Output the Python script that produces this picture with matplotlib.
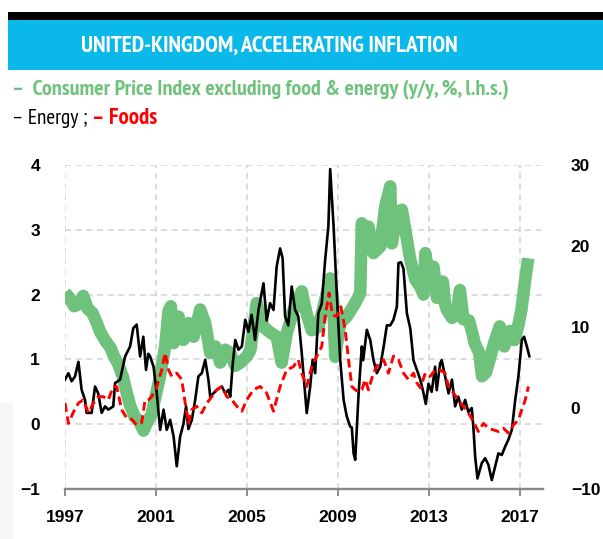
import matplotlib
matplotlib.use('Agg')
import matplotlib.pyplot as plt
from matplotlib.patches import Rectangle

# core CPI ex food & energy (y/y %, left axis)
core_years = [1997.0, 1997.2, 1997.4, 1997.6, 1997.8, 1998.0, 1998.2, 1998.4, 1998.55, 1998.75,
              1999.0, 1999.15, 1999.35, 1999.55, 1999.7, 1999.85, 2000.05, 2000.25, 2000.45, 2000.6,
              2000.8, 2000.96, 2001.18, 2001.4, 2001.55, 2001.65, 2001.77, 2001.99, 2002.2, 2002.43,
              2002.65, 2002.94, 2003.16, 2003.38, 2003.6, 2003.82, 2004.04, 2004.26, 2004.48, 2004.7,
              2005.0, 2005.15, 2005.42, 2005.72, 2006.0, 2006.3, 2006.52, 2006.74, 2007.03, 2007.4,
              2007.62, 2007.84, 2008.13, 2008.35, 2008.65, 2008.78, 2008.87, 2009.09, 2009.38, 2009.75,
              2009.97, 2010.04, 2010.19, 2010.33, 2010.55, 2010.85, 2011.07, 2011.29, 2011.36, 2011.58,
              2011.8, 2011.95, 2012.17, 2012.39, 2012.61, 2012.75, 2012.83, 2012.97, 2013.19, 2013.34,
              2013.5, 2013.6, 2013.7, 2013.77, 2014.0, 2014.2, 2014.35, 2014.5, 2014.75, 2014.9,
              2015.0, 2015.2, 2015.32, 2015.5, 2015.65, 2015.85, 2016.1, 2016.3, 2016.55, 2016.75,
              2016.9, 2017.05, 2017.2, 2017.35]
core_vals = [2.03, 1.95, 1.82, 1.85, 1.98, 1.78, 1.72, 1.56, 1.42, 1.3,
             1.18, 1.05, 0.92, 0.72, 0.5, 0.3, 0.12, 0.05, -0.1, 0.02,
             0.15, 0.4, 0.75, 1.2, 1.75, 1.82, 1.25, 1.66, 1.3, 1.56,
             1.35, 1.77, 1.56, 1.1, 1.2, 0.95, 1.15, 1.1, 0.9, 0.95,
             1.05, 1.15, 1.87, 1.5, 1.42, 1.35, 0.95, 1.4, 1.75, 2.05,
             1.7, 1.45, 1.5, 1.8, 2.25, 1.9, 1.04, 1.56, 1.66, 1.87,
             2.02, 3.1, 2.79, 3.05, 2.64, 2.74, 3.36, 3.67, 2.79, 3.26,
             3.31, 3.0, 2.54, 2.23, 2.12, 2.0, 2.64, 2.3, 2.43, 1.95,
             2.2, 2.2, 1.85, 1.77, 1.64, 1.7, 2.07, 1.62, 1.6, 1.4,
             1.25, 1.1, 0.74, 0.8, 0.99, 1.25, 1.51, 1.2, 1.44, 1.3,
             1.5, 1.76, 2.18, 2.56]

# energy (y/y %, right axis)
energy_years = [1997.0, 1997.15, 1997.29, 1997.44, 1997.59, 1997.73, 1997.88, 1997.95, 1998.17, 1998.32,
                1998.46, 1998.61, 1998.76, 1998.9, 1999.12, 1999.2, 1999.42, 1999.64, 1999.86, 2000.0,
                2000.15, 2000.3, 2000.44, 2000.56, 2000.66, 2000.74, 2000.89, 2001.03, 2001.18, 2001.33,
                2001.47, 2001.62, 2001.77, 2001.91, 2002.06, 2002.2, 2002.32, 2002.42, 2002.57, 2002.72,
                2002.86, 2003.01, 2003.16, 2003.3, 2003.38, 2003.52, 2003.67, 2003.89, 2004.04, 2004.18,
                2004.26, 2004.37, 2004.48, 2004.62, 2004.77, 2004.92, 2005.06, 2005.2, 2005.35, 2005.5,
                2005.72, 2005.86, 2006.01, 2006.16, 2006.3, 2006.45, 2006.56, 2006.67, 2006.81, 2006.96,
                2007.11, 2007.25, 2007.4, 2007.55, 2007.62, 2007.77, 2007.88, 2007.99, 2008.13, 2008.28,
                2008.43, 2008.57, 2008.65, 2008.8, 2008.94, 2009.09, 2009.24, 2009.38, 2009.53, 2009.6,
                2009.68, 2009.75, 2009.9, 2010.04, 2010.1, 2010.26, 2010.41, 2010.55, 2010.7, 2010.85,
                2011.0, 2011.14, 2011.29, 2011.43, 2011.58, 2011.65, 2011.76, 2011.87, 2012.02, 2012.17,
                2012.31, 2012.46, 2012.61, 2012.75, 2012.85, 2012.97, 2013.11, 2013.26, 2013.33, 2013.48,
                2013.55, 2013.7, 2013.85, 2014.0, 2014.14, 2014.28, 2014.43, 2014.58, 2014.72, 2014.87,
                2014.94, 2015.02, 2015.12, 2015.31, 2015.46, 2015.6, 2015.75, 2015.9, 2016.04, 2016.19,
                2016.34, 2016.48, 2016.63, 2016.78, 2016.92, 2017.07, 2017.17, 2017.29, 2017.4]
energy_vals = [3.5, 4.3, 3.3, 3.9, 5.7, 2.25, 1.0, -0.6, -0.6, 2.65,
               1.8, -0.6, 0.2, -0.2, 0.2, 3.07, 3.5, 6.36, 7.6, 9.86,
               10.3, 6.36, 8.8, 4.7, 6.7, 6.36, 5.1, 1.84, -2.7, -0.2,
               -2.7, -1.46, -3.5, -7.2, -3.5, -2.0, 0.2, -2.6, -1.5, 1.0,
               3.9, 4.3, 5.95, 3.5, 1.4, 1.8, 2.25, 2.66, 1.8, 2.25,
               1.4, 5.5, 8.4, 7.2, 7.6, 10.9, 9.4, 11.5, 8.4, 12.1,
               15.4, 10.8, 12.95, 12.1, 17.5, 19.7, 18.5, 11.3, 10.2, 15.0,
               12.1, 11.3, 6.8, 1.84, -0.63, 2.6, 5.95, 4.3, 11.7, 12.9,
               18.3, 22.4, 29.5, 22.4, 14.2, 5.95, 1.0, -1.05, -2.3, -2.4,
               -5.6, -6.4, 1.84, 7.6, 5.9, 9.65, 8.4, 5.95, 4.3, 5.1,
               7.6, 10.2, 10.2, 10.9, 12.5, 17.9, 18.0, 17.2, 11.7, 9.8,
               5.9, 4.7, 3.5, 1.85, 0.5, 3.0, 2.0, 5.1, 2.2, 5.5,
               5.9, 3.9, 1.8, 3.5, 0.2, 1.4, -0.2, 1.0, -0.5, 0.0,
               -2.3, -6.0, -8.7, -6.8, -6.2, -7.0, -8.9, -7.2, -5.6, -5.8,
               -4.75, -3.9, -2.7, 1.0, 3.9, 8.4, 8.8, 7.6, 6.4]

# foods (y/y %, right axis)
food_years = [1997.0, 1997.15, 1997.37, 1997.59, 1997.8, 1998.03, 1998.25, 1998.46, 1998.68, 1998.9,
              1999.12, 1999.27, 1999.49, 1999.71, 1999.93, 2000.15, 2000.37, 2000.52, 2000.66, 2000.81,
              2001.03, 2001.25, 2001.4, 2001.55, 2001.69, 2001.91, 2002.13, 2002.28, 2002.43, 2002.57,
              2002.79, 2003.01, 2003.23, 2003.45, 2003.67, 2003.89, 2004.11, 2004.33, 2004.55, 2004.77,
              2004.98, 2005.28, 2005.57, 2005.86, 2006.16, 2006.45, 2006.74, 2007.03, 2007.25, 2007.4,
              2007.62, 2007.84, 2008.06, 2008.28, 2008.43, 2008.6, 2008.75, 2008.94, 2009.12, 2009.31,
              2009.46, 2009.6, 2009.75, 2009.9, 2010.04, 2010.19, 2010.33, 2010.55, 2010.77, 2011.0,
              2011.21, 2011.43, 2011.65, 2011.87, 2012.09, 2012.31, 2012.46, 2012.61, 2012.83, 2013.04,
              2013.26, 2013.48, 2013.7, 2013.85, 2014.07, 2014.28, 2014.5, 2014.72, 2014.94, 2015.16,
              2015.38, 2015.6, 2015.82, 2016.04, 2016.26, 2016.48, 2016.7, 2016.92, 2017.07, 2017.22,
              2017.36]
food_vals = [0.6, -1.9, -0.5, 0.6, 1.0, -0.6, 0.6, 1.4, 1.4, 1.0,
             2.65, 2.65, -0.2, -1.25, -1.4, -2.1, -1.8, 1.0, 1.0, 1.4,
             2.65, 4.7, 6.8, 4.7, 3.9, 4.3, 3.5, 0.6, -1.9, -0.2,
             0.2, -0.6, 0.6, 1.4, 2.25, 2.65, 1.4, 1.0, 0.2, -0.4,
             1.0, 2.25, 2.66, 1.84, -0.4, 2.66, 4.7, 5.1, 5.95, 4.3,
             2.66, 5.1, 6.4, 7.6, 11.3, 14.2, 11.5, 11.3, 12.5, 9.6,
             5.9, 2.66, 2.25, 2.0, 2.25, 3.5, 2.25, 4.3, 5.5, 5.95,
             4.3, 6.4, 5.95, 4.3, 3.5, 4.3, 3.1, 2.5, 4.3, 3.9,
             4.7, 4.7, 4.3, 2.66, 1.84, 1.0, 0.2, -0.6, -1.67, -2.9,
             -1.9, -2.5, -2.7, -2.9, -2.5, -3.1, -2.1, -1.46, -0.2, 1.0,
             2.66]

year_ticks = [1997, 2001, 2005, 2009, 2013, 2017]
left_ticks = [-1, 0, 1, 2, 3, 4]
right_ticks = [-10, 0, 10, 20, 30]

GREEN = '#6fc27c'
CYAN = '#0bb8ea'

plt.rcParams['font.family'] = ['Liberation Sans', 'DejaVu Sans']
NARROW = ['PT Sans Narrow', 'Roboto Condensed', 'DejaVu Sans']

fig = plt.figure(figsize=(6.03, 5.39), dpi=100)
W, H = 603.0, 539.0


def fit_width(t, width_px):
    # scale a text's font size so it spans width_px on the canvas
    r = fig.canvas.get_renderer()
    w = t.get_window_extent(renderer=r).width
    t.set_fontsize(t.get_fontsize() * width_px / w)


# header bars
fig.patches.append(Rectangle((8 / W, 1 - 20 / H), 1, 8.5 / H, transform=fig.transFigure,
                             facecolor='black', edgecolor='none'))
fig.patches.append(Rectangle((8 / W, 1 - 70 / H), 1, 50 / H, transform=fig.transFigure,
                             facecolor=CYAN, edgecolor='none'))
# faint grey patch bottom left
fig.patches.append(Rectangle((0, 0), 13 / W, 136 / H, transform=fig.transFigure,
                             facecolor='#f6f6f6', edgecolor='none'))

t1 = fig.text(269 / W, 1 - 46 / H, 'UNITED-KINGDOM, ACCELERATING INFLATION', color='white',
              fontsize=16, fontweight='bold', family=NARROW, ha='center', va='center')
fit_width(t1, 378)
t2 = fig.text(12 / W, 1 - 90 / H, '–  Consumer Price Index excluding food & energy (y/y, %, l.h.s.)',
              color=GREEN, fontsize=15, fontweight='bold', family=NARROW, ha='left', va='center')
fit_width(t2, 498)
t3 = fig.text(12 / W, 1 - 119 / H, '– Energy ;', color='black', fontsize=15,
              family=NARROW, ha='left', va='center')
fit_width(t3, 76)
t4 = fig.text(92 / W, 1 - 119 / H, '– Foods', color='#ff0000', fontsize=15, fontweight='bold',
              family=NARROW, ha='left', va='center')
fit_width(t4, 65)

ax = fig.add_axes([65 / W, 1 - 489 / H, 478 / W, 324 / H])
ax2 = ax.twinx()

ax.plot(core_years, core_vals, color=GREEN, lw=9, solid_capstyle='butt', solid_joinstyle='round')
ax2.plot(energy_years, energy_vals, color='black', lw=1.9)
ax2.plot(food_years, food_vals, color='#ff0000', lw=2.1, ls=(0, (3, 1.6)))

ax.set_xlim(1997, 2018)
ax.set_ylim(-1, 4)
ax2.set_ylim(-10, 30)
ax.set_xticks(year_ticks)
ax.set_yticks(left_ticks)
ax2.set_yticks(right_ticks)

ax.grid(True, ls=(0, (4, 3)), color='#d3d3d3', lw=1.1)
ax.set_axisbelow(True)

for a in (ax, ax2):
    for s in ('left', 'right', 'top'):
        a.spines[s].set_visible(False)
    a.spines['bottom'].set_color('#8a8a8a')
    a.spines['bottom'].set_linewidth(1.6)

ax.tick_params(axis='x', length=5, width=1.4, color='#8a8a8a', pad=10, labelsize=12.5)
ax.tick_params(axis='y', length=0, pad=18, labelsize=12.5)
ax2.tick_params(axis='y', length=0, pad=20, labelsize=12.5)
for lab in ax.get_xticklabels() + ax.get_yticklabels() + ax2.get_yticklabels():
    lab.set_fontweight('bold')

plt.savefig('out.png', dpi=100)
plt.close()
